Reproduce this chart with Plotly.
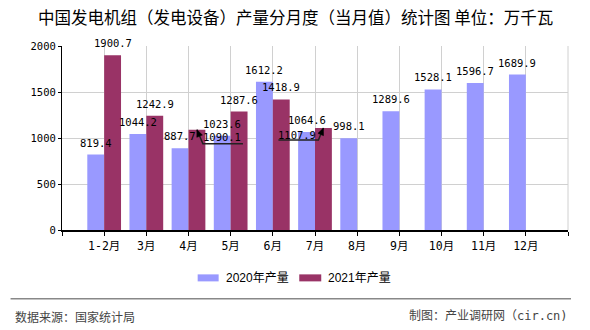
import plotly.graph_objects as go

months = ["1-2月", "3月", "4月", "5月", "6月", "7月", "8月", "9月", "10月", "11月", "12月"]
v2020 = [819.4, 1044.2, 887.7, 1023.6, 1612.2, 1064.6, 998.1, 1289.6, 1528.1, 1596.7, 1689.9]
v2021 = [1900.7, 1242.9, 1090.1, 1287.6, 1418.9, 1107.9]
names = ["2020年产量", "2021年产量"]
colors = ["#9999FF", "#993366"]
y_ticks = [0, 500, 1000, 1500, 2000]

title = "中国发电机组（发电设备）产量分月度（当月值）统计图 单位：万千瓦"
source_l = "数据来源：国家统计局"
source_r = "制图：产业调研网（cir.cn)"

CJK = "Noto Sans CJK SC"
LBL_FONT = dict(family="DejaVu Sans Mono, " + CJK, size=10.5, color="#000")

W, H = 590, 330
L, R, T, B = 61.5, 22, 46, 100.3
pw, ph = W - L - R, H - T - B

def px(xp):
    return (xp - L) / pw

def py(yp):
    return (H - B - yp) / ph

xs = list(range(len(months)))
fig = go.Figure()
fig.add_trace(go.Bar(x=xs, y=v2020, name=names[0], marker_color=colors[0],
                     marker_line_width=0, offsetgroup="a"))
fig.add_trace(go.Bar(x=xs[:len(v2021)], y=v2021, name=names[1], marker_color=colors[1],
                     marker_line_width=0, offsetgroup="b"))

annotations = []
shapes = []
# special leader-line labels (index in 2021 series -> (xshift, yshift, path, head))
special = {
    2: (25, -7, "M0,0 L6,-14 L46,-14", "M0,0 L5.5,-5.3 L-0.1,-7.6 Z"),
    5: (-26, -7, "M0,0 L-5,-12 L-45,-12", "M0,0 L0.1,-7.6 L-5.5,-5.3 Z"),
}
for i, v in enumerate(v2020):
    annotations.append(dict(x=i - 0.2, y=v, xref="x", yref="y", text=f"{v:.1f}",
                            showarrow=False, yanchor="middle", yshift=12, font=LBL_FONT))
for i, v in enumerate(v2021):
    if i in special:
        xsh, ysh, path, head = special[i]
        annotations.append(dict(x=i + 0.2, y=v, xref="x", yref="y", text=f"{v:.1f}",
                                showarrow=False, xshift=xsh, yshift=ysh, yanchor="middle",
                                font=LBL_FONT))
        shapes.append(dict(type="path", xref="x", yref="y", xsizemode="pixel", ysizemode="pixel",
                           xanchor=i + 0.2, yanchor=v, path=path,
                           line=dict(color="#222", width=1.5)))
        shapes.append(dict(type="path", xref="x", yref="y", xsizemode="pixel", ysizemode="pixel",
                           xanchor=i + 0.2, yanchor=v, path=head, fillcolor="#000",
                           line=dict(color="#000", width=0.5)))
    else:
        annotations.append(dict(x=i + 0.2, y=v, xref="x", yref="y", text=f"{v:.1f}",
                                showarrow=False, yanchor="middle", yshift=12, font=LBL_FONT))

# title
annotations.append(dict(x=px(295), y=py(17.5), xref="paper", yref="paper", text=title,
                        showarrow=False, font=dict(family=CJK, size=16.5, color="#000"),
                        xanchor="center", yanchor="middle"))

# manual legend (paper coords)
leg = [(197.3, 218.3, 224), (299, 321, 325.3)]
for (x0, x1, tx), nm, c in zip(leg, names, colors):
    shapes.append(dict(type="rect", xref="paper", yref="paper", x0=px(x0), x1=px(x1),
                       y0=py(281), y1=py(274), fillcolor=c, line=dict(width=0)))
    annotations.append(dict(x=px(tx), y=py(278), xref="paper", yref="paper", text=nm,
                            showarrow=False, xanchor="left", yanchor="middle",
                            font=dict(family="Liberation Sans, " + CJK, size=12, color="#000")))

# footer line and texts
shapes.append(dict(type="line", xref="paper", yref="paper", x0=px(10), x1=px(571),
                   y0=py(298.3), y1=py(298.3), line=dict(color="#888", width=1.5)))
annotations.append(dict(x=px(12), y=py(316), xref="paper", yref="paper", text=source_l,
                        showarrow=False, xanchor="left", yanchor="middle",
                        font=dict(family=CJK, size=12, color="#444")))
annotations.append(dict(x=px(570), y=py(316), xref="paper", yref="paper", text=source_r,
                        showarrow=False, xanchor="right", yanchor="middle",
                        font=dict(family="DejaVu Sans Mono, " + CJK, size=12, color="#444")))

tickvals = list(range(-1, len(months) + 1))
ticktext = [""] + months + [""]

fig.update_layout(
    width=W, height=H,
    margin=dict(l=L, r=R, t=T, b=B, pad=0),
    paper_bgcolor="white", plot_bgcolor="white",
    barmode="group", bargap=0.2, bargroupgap=0,
    showlegend=False,
    annotations=annotations, shapes=shapes,
    xaxis=dict(range=[-1, len(months)], tickmode="array", tickvals=tickvals, ticktext=ticktext,
               showgrid=True, gridcolor="#d0d0d0", gridwidth=1,
               showline=True, linecolor="#000", linewidth=1.5,
               ticks="outside", ticklen=4, tickcolor="#000", tickwidth=1,
               tickfont=dict(family="DejaVu Sans Mono, " + CJK, size=11.5, color="#000"),
               zeroline=False, fixedrange=True),
    yaxis=dict(range=[0, 2000], tickmode="array", tickvals=y_ticks,
               showgrid=True, gridcolor="#d0d0d0", gridwidth=1,
               showline=True, linecolor="#000", linewidth=1.2,
               ticks="outside", ticklen=3, tickcolor="#000",
               tickfont=LBL_FONT, zeroline=False, fixedrange=True),
)
# right border line
shapes_extra = [dict(type="line", xref="paper", yref="paper", x0=1, x1=1, y0=0, y1=1,
                     line=dict(color="#d0d0d0", width=1), layer="below")]
fig.update_layout(shapes=list(fig.layout.shapes) + shapes_extra)

fig.write_html("out.html", config={"displayModeBar": False})
